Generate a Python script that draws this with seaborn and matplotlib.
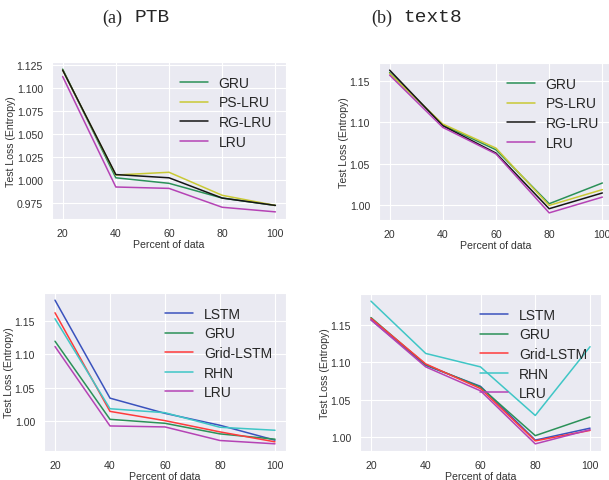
import numpy as np
import pandas as pd
import matplotlib
matplotlib.use("Agg")
import matplotlib.pyplot as plt
import seaborn as sns

# ---- data ----
pct = [20, 40, 60, 80, 100]

# (a) PTB, top
ptb_gru = [1.120, 1.002, 0.996, 0.980, 0.972]
ptb_pslru = [1.119, 1.005, 1.008, 0.983, 0.972]
ptb_rglru = [1.119, 1.0055, 1.002, 0.980, 0.972]
ptb_lru = [1.112, 0.992, 0.9905, 0.970, 0.965]

# (b) text8, top
t8_gru = [1.160, 1.097, 1.067, 1.002, 1.027]
t8_pslru = [1.159, 1.098, 1.069, 1.000, 1.019]
t8_rglru = [1.163, 1.096, 1.063, 0.996, 1.015]
t8_lru = [1.157, 1.094, 1.062, 0.991, 1.010]

# (a) PTB, bottom
ptb_lstm = [1.182, 1.034, 1.011, 0.993, 0.9705]
ptb_grid = [1.163, 1.014, 1.000, 0.983, 0.968]
ptb_rhn = [1.154, 1.018, 1.012, 0.990, 0.9855]

# (b) text8, bottom
t8_lstm = [1.157, 1.096, 1.068, 0.996, 1.012]
t8_grid = [1.159, 1.098, 1.065, 0.995, 1.009]
t8_rhn = [1.182, 1.112, 1.094, 1.029, 1.121]

top_models = ["GRU", "PS-LRU", "RG-LRU", "LRU"]
bottom_models = ["LSTM", "GRU", "Grid-LSTM", "RHN", "LRU"]

colors = {
    "GRU": "#2b9158",
    "PS-LRU": "#c9c935",
    "RG-LRU": "#151515",
    "LRU": "#b543b5",
    "LSTM": "#3a52bd",
    "Grid-LSTM": "#ff3b3b",
    "RHN": "#3fc6c6",
}


def long_df(models, series):
    rows = []
    for m, vals in zip(models, series):
        for x, v in zip(pct, vals):
            rows.append({"pct": x, "loss": v, "model": m})
    return pd.DataFrame(rows)


sns.set_style("darkgrid")
plt.rcParams["font.family"] = ["Liberation Sans", "DejaVu Sans"]

fig = plt.figure(figsize=(6.09, 4.81), dpi=100)

panels = [
    ([52, 63, 286, 220], long_df(top_models, [ptb_gru, ptb_pslru, ptb_rglru, ptb_lru]), top_models,
     [0.975, 1.000, 1.025, 1.050, 1.075, 1.100, 1.125], "{:.3f}"),
    ([379, 64, 613, 221], long_df(top_models, [t8_gru, t8_pslru, t8_rglru, t8_lru]), top_models,
     [1.00, 1.05, 1.10, 1.15], "{:.2f}"),
    ([44, 294, 286, 452], long_df(bottom_models, [ptb_lstm, ptb_gru, ptb_grid, ptb_rhn, ptb_lru]), bottom_models,
     [1.00, 1.05, 1.10, 1.15], "{:.2f}"),
    ([360, 295, 601, 452], long_df(bottom_models, [t8_lstm, t8_gru, t8_grid, t8_rhn, t8_lru]), bottom_models,
     [1.00, 1.05, 1.10, 1.15], "{:.2f}"),
]

W, H = 609, 481
for (l, t, r, b), df, models, yt, fmt in panels:
    ax = fig.add_axes([l / W, 1 - b / H, (r - l) / W, (b - t) / H])
    sns.lineplot(data=df, x="pct", y="loss", hue="model", hue_order=models,
                 palette=colors, linewidth=1.1, ax=ax, legend=True)
    ax.set_xticks(pct)
    ax.set_xticklabels([str(p) for p in pct])
    ax.set_yticks(yt)
    ax.set_yticklabels([fmt.format(v) for v in yt])
    ax.tick_params(labelsize=7.6, pad=3, colors="#333333")
    ax.set_xlabel("Percent of data", fontsize=7.6, labelpad=0.5, color="#333333")
    ax.set_ylabel("Test Loss (Entropy)", fontsize=7.6, labelpad=0.5, color="#333333")
    handles, labels = ax.get_legend_handles_labels()
    ax.legend(handles, labels, loc="upper right", frameon=False, fontsize=10,
              handlelength=2.0, handletextpad=0.8, labelspacing=0.4,
              borderaxespad=0.6)

# panel captions
cy = 1 - 18 / H
fig.text(122 / W, cy, "(a)", family="Liberation Serif", fontsize=13, ha="right", va="center")
fig.text(134 / W, cy, "PTB", family="Liberation Mono", fontsize=14, ha="left", va="center")
fig.text(392 / W, cy, "(b)", family="Liberation Serif", fontsize=13, ha="right", va="center")
fig.text(403 / W, cy, "text8", family="Liberation Mono", fontsize=14, ha="left", va="center")

fig.savefig("out.png", dpi=100, facecolor="white")
